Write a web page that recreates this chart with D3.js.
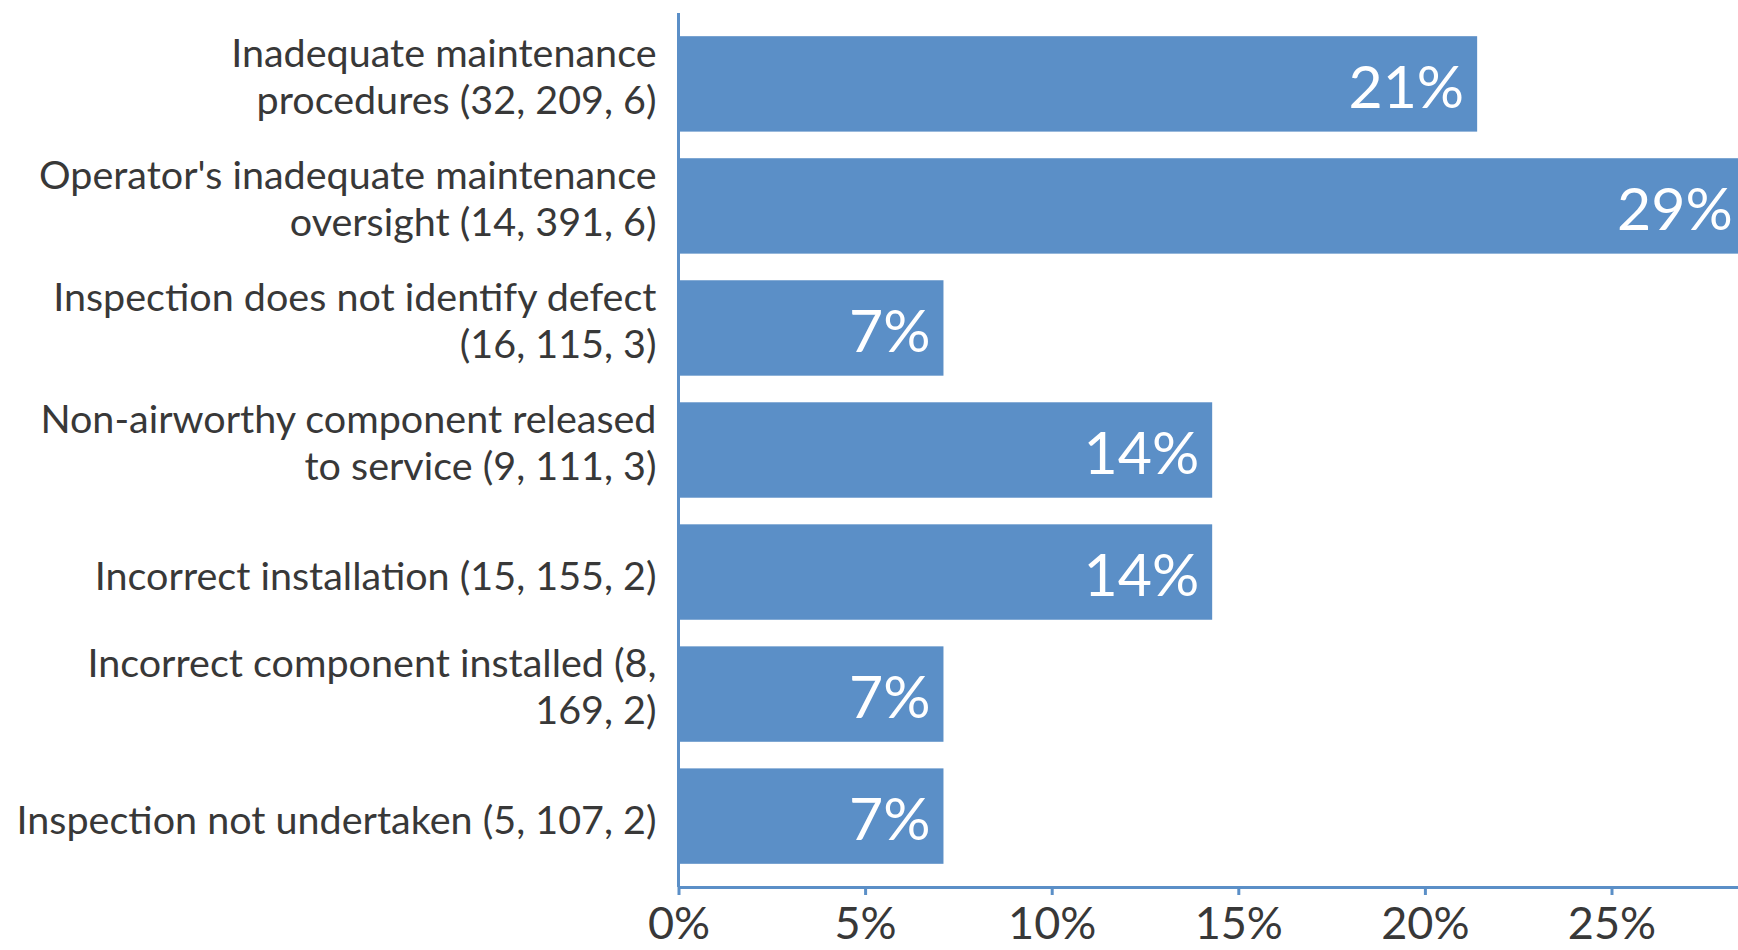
<!DOCTYPE html>
<html>
<head>
<meta charset="utf-8">
<script src="https://cdn.jsdelivr.net/npm/d3@7"></script>
<style>
  html, body { margin: 0; padding: 0; background: #ffffff; }
  svg { display: block; }
</style>
</head>
<body>
<svg id="chart" width="1738" height="950"></svg>
<script>
// Contributing factors (label text carries the counts in brackets)
const categories = [
  "Inadequate maintenance\nprocedures (32, 209, 6)",
  "Operator's inadequate maintenance\noversight (14, 391, 6)",
  "Inspection does not identify defect\n(16, 115, 3)",
  "Non-airworthy component released\nto service (9, 111, 3)",
  "Incorrect installation (15, 155, 2)",
  "Incorrect component installed (8,\n169, 2)",
  "Inspection not undertaken (5, 107, 2)"
];

// Share of occurrences, percent
const shares = [21.4, 28.6, 7.1, 14.3, 14.3, 7.1, 7.1];

// Axis tick values, percent
const tickValues = [0, 5, 10, 15, 20, 25];

(function draw() {
  const plotLeft = 678.5, plotTop = 13, plotBottom = 887;
  const barColor = "#5b8fc7";
  const axisColor = "#5b8fc7";
  const textColor = "#383838";
  const font = "Lato, 'Open Sans', sans-serif";

  const svg = d3.select("#chart");

  const x = d3.scaleLinear().domain([0, 30]).range([plotLeft, plotLeft + 6 * 186.6]);
  const y = d3.scaleBand()
    .domain(categories)
    .range([plotTop, plotBottom])
    .paddingInner(0.218)
    .paddingOuter(0.19);

  // Bars
  svg.append("g")
    .selectAll("rect")
    .data(categories)
    .join("rect")
    .attr("x", x(0))
    .attr("y", d => y(d))
    .attr("width", (d, i) => x(shares[i]) - x(0))
    .attr("height", y.bandwidth())
    .attr("fill", barColor);

  // Value labels inside the bar ends
  svg.append("g")
    .selectAll("text")
    .data(categories)
    .join("text")
    .attr("x", (d, i) => x(shares[i]) - 13)
    .attr("y", d => y(d) + y.bandwidth() / 2 + 3)
    .attr("dy", "0.36em")
    .attr("text-anchor", "end")
    .attr("fill", "#ffffff")
    .style("font-family", font)
    .style("font-size", "59px")
    .text((d, i) => Math.round(shares[i]) + "%");

  // Category labels, wrapped over one or two lines
  const lineH = 46.5;
  const catG = svg.append("g");
  categories.forEach(c => {
    const lines = c.split("\n");
    const cy = y(c) + y.bandwidth() / 2 + (lines.length === 1 ? 6 : -5.5);
    const t = catG.append("text")
      .attr("text-anchor", "end")
      .attr("fill", textColor)
      .style("font-family", font)
      .style("font-size", "39.5px");
    lines.forEach((ln, k) => {
      t.append("tspan")
        .attr("x", plotLeft - 22)
        .attr("y", cy + (k - (lines.length - 1) / 2) * lineH)
        .attr("dy", "0.3em")
        .text(ln);
    });
  });

  // Vertical axis line
  svg.append("line")
    .attr("x1", plotLeft).attr("x2", plotLeft)
    .attr("y1", plotTop).attr("y2", plotBottom)
    .attr("stroke", axisColor)
    .attr("stroke-width", 3);

  // Horizontal value axis
  const xAxis = d3.axisBottom(x)
    .tickValues(tickValues)
    .tickSizeInner(8)
    .tickSizeOuter(0)
    .tickPadding(12)
    .tickFormat(d => d + "%");

  const ax = svg.append("g")
    .attr("transform", `translate(0,${plotBottom})`)
    .call(xAxis);

  ax.select(".domain").attr("stroke", axisColor).attr("stroke-width", 3);
  ax.selectAll(".tick line").attr("stroke", axisColor).attr("stroke-width", 3);
  ax.selectAll(".tick text")
    .attr("fill", textColor)
    .style("font-family", font)
    .style("font-size", "45px");
})();
</script>
</body>
</html>
